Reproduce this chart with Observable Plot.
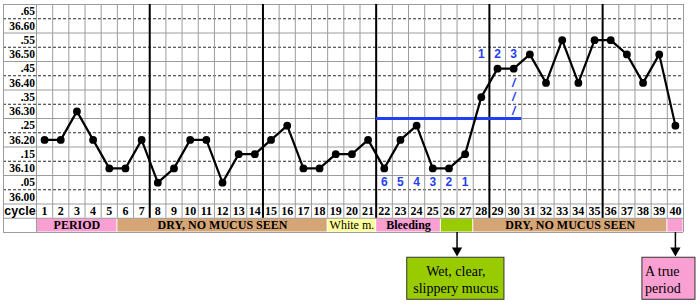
<!DOCTYPE html>
<html>
<head>
<meta charset="utf-8">
<script src="https://cdn.jsdelivr.net/npm/d3@7"></script>
<script src="https://cdn.jsdelivr.net/npm/@observablehq/plot@0.6"></script>
<style>
  html, body { margin: 0; padding: 0; background: #fff; }
  #chart svg { display: block; }
</style>
</head>
<body>
<div id="chart"></div>
<script>
// ---- data ----
const days = d3.range(1, 41);
const temps = [36.20,36.20,36.30,36.20,36.10,36.10,36.20,36.05,36.10,36.20,
               36.20,36.05,36.15,36.15,36.20,36.25,36.10,36.10,36.15,36.15,
               36.20,36.10,36.20,36.25,36.10,36.10,36.15,36.35,36.45,36.45,
               36.50,36.40,36.55,36.40,36.55,36.55,36.50,36.40,36.50,36.25];
const yTickValues = [36.00,36.05,36.10,36.15,36.20,36.25,36.30,36.35,36.40,36.45,36.50,36.55,36.60,36.65];
const yTickLabels = ["36.00",".05","36.10",".15","36.20",".25","36.30",".35","36.40",".45","36.50",".55","36.60",".65"];
const weekEnds = [7, 14, 21, 28, 35];
const bandLabels = ["PERIOD","DRY, NO MUCUS SEEN","White m.","Bleeding","","DRY, NO MUCUS SEEN",""];
const bandStart  = [1, 6, 19, 22, 26, 28, 40];
const bandEnd    = [5, 18, 21, 25, 27, 39, 40];
const bandKind   = ["period","dry","white","bleed","wet","dry","period"];
const coverTemp = 36.275, coverStart = 22, coverEnd = 30;
const preDays = [22,23,24,25,26,27], preLabels = ["6","5","4","3","2","1"], preTemp = 36.05;
const postDays = [28,29,30], postLabels = ["1","2","3"], postTemp = 36.50;
const slashDay = 30, slashTemps = [36.40, 36.35, 36.30];
const noteTexts = ["Wet, clear,\nslippery mucus", "A true\nperiod"];
const noteDays = [26.5, 40];
const noteKind = ["wet", "period"];

// ---- layout / style ----
const STEP = 0.05;
const TOP = 36.675, CYCLE_Y = 35.95, ROW_BOTTOM = 35.925, LABEL_Y = 35.90, LABEL_BOTTOM = 35.875;
const LEFT = -1.54;               // left edge of label column, in day units
const kindFill = {period:"#fa9fd2", dry:"#d5a576", white:"#ffff9e", bleed:"#fa9fd2", wet:"#99cc00"};
const boldKinds = new Set(["period","dry","bleed"]);
const noteBox = [[-3.08, 2.93], [-2.04, 1.24]];
const noteAlign = ["middle", "start"];
const BOX_TOP = 35.7864, BOX_BOTTOM = 35.6389, ARROW_END = 35.818, HEAD_Y = 35.8117;
const GREY = "#9c9c9c";
const BLUE = "#1f3ff0";
const SERIF = "Liberation Serif, Times New Roman, serif";
const SANS = "Liberation Sans, Arial, sans-serif";

const solidLines = [], dashLines = [];
for (let k = 0; k <= 14; k++) {
  const v = +(TOP - k * STEP).toFixed(3);
  (k % 2 ? dashLines : solidLines).push(v);
}
solidLines.push(ROW_BOTTOM, LABEL_BOTTOM);

const bands = bandLabels.map((label, i) => ({label, start: bandStart[i], end: bandEnd[i], kind: bandKind[i]}));
const notes = noteTexts.map((text, i) => ({text, day: noteDays[i], kind: noteKind[i], box: noteBox[i], align: noteAlign[i]}));
const points = days.map((d, i) => ({day: d, t: temps[i]}));

const chart = Plot.plot({
  width: 700, height: 305,
  marginLeft: 36, marginRight: 17, marginTop: 4, marginBottom: 73,
  x: {domain: [0.5, 40.5], axis: null},
  y: {domain: [LABEL_BOTTOM, TOP], axis: null},
  style: {background: "white", overflow: "visible"},
  marks: [
    // label row bands
    Plot.rect(bands, {x1: d => d.start - 0.5, x2: d => d.end + 0.5, y1: LABEL_BOTTOM, y2: ROW_BOTTOM,
      fill: d => kindFill[d.kind], inset: 0.5}),
    // horizontal grid
    Plot.ruleY(solidLines, {x1: LEFT, x2: 40.5, stroke: GREY, strokeWidth: 1}),
    Plot.ruleY(dashLines, {x1: LEFT, x2: 40.5, stroke: "#2a2a2a", strokeWidth: 1, strokeDasharray: "3,2"}),
    // vertical grid
    Plot.ruleX(d3.range(0.5, 41, 1), {y1: ROW_BOTTOM, y2: TOP, stroke: GREY, strokeWidth: 1}),
    Plot.ruleX([LEFT, 0.5, 40.5], {y1: LABEL_BOTTOM, y2: TOP, stroke: GREY, strokeWidth: 1}),
    // week dividers
    Plot.ruleX(weekEnds, {x: d => d + 0.5, y1: ROW_BOTTOM, y2: TOP, stroke: "#000", strokeWidth: 2}),
    // y labels
    Plot.axisY(yTickValues, {tickFormat: (d, i) => yTickLabels[i], tickSize: 0, tickPadding: 1.5,
      fontSize: 11.5, fontWeight: "bold", fontFamily: SERIF, fill: "#000", label: null}),
    // cycle row
    Plot.text(["cycle"], {x: LEFT + 1.02, y: CYCLE_Y, text: d => d, fontFamily: SANS, fontWeight: "bold", fontSize: 12.5, fill: "#000"}),
    Plot.text(days, {x: d => d, y: CYCLE_Y, text: d => String(d), fontFamily: SERIF, fontWeight: "bold", fontSize: 12, fill: "#000"}),
    // band labels
    Plot.text(bands.filter(d => boldKinds.has(d.kind)), {x: d => (d.start + d.end) / 2, y: LABEL_Y, text: "label",
      fontFamily: SERIF, fontWeight: "bold", fontSize: 12, fill: "#000"}),
    Plot.text(bands.filter(d => !boldKinds.has(d.kind)), {x: d => (d.start + d.end) / 2, y: LABEL_Y, text: "label",
      fontFamily: SERIF, fontWeight: "normal", fontSize: 12, fill: "#000"}),
    // coverline
    Plot.ruleY([coverTemp], {x1: coverStart - 0.5, x2: coverEnd + 0.5, stroke: BLUE, strokeWidth: 3}),
    // temperature line
    Plot.line(points, {x: "day", y: "t", stroke: "#000", strokeWidth: 2.2}),
    Plot.dot(points, {x: "day", y: "t", r: 3.9, fill: "#000", stroke: "none"}),
    // count labels
    Plot.text(preDays, {x: d => d, y: preTemp, text: (d, i) => preLabels[i], fill: BLUE, fontFamily: SANS, fontWeight: "bold", fontSize: 12}),
    Plot.text(postDays, {x: d => d, y: postTemp, text: (d, i) => postLabels[i], fill: BLUE, fontFamily: SANS, fontWeight: "bold", fontSize: 12}),
    Plot.text(slashTemps, {x: slashDay, y: d => d, text: () => "/", fill: BLUE, fontFamily: SANS, fontWeight: "bold", fontStyle: "italic", fontSize: 12}),
    // notes: arrows and boxes
    Plot.ruleX(notes, {x: "day", y1: LABEL_BOTTOM, y2: ARROW_END, stroke: "#000", strokeWidth: 1.5}),
    Plot.dot(notes, {x: "day", y: HEAD_Y, symbol: "triangle", rotate: 180, r: 3.8, fill: "#000", stroke: "none"}),
    Plot.rect(notes, {x1: d => d.day + d.box[0], x2: d => d.day + d.box[1], y1: BOX_BOTTOM, y2: BOX_TOP,
      fill: d => kindFill[d.kind], stroke: "#333", strokeWidth: 1}),
    Plot.text(notes.filter(d => d.align === "middle"), {x: d => d.day + (d.box[0] + d.box[1]) / 2, y: (BOX_TOP + BOX_BOTTOM) / 2,
      text: "text", fontFamily: SERIF, fontSize: 14, lineHeight: 1.2, fill: "#000"}),
    Plot.text(notes.filter(d => d.align === "start"), {x: d => d.day + d.box[0], dx: 2.5, y: (BOX_TOP + BOX_BOTTOM) / 2,
      text: "text", textAnchor: "start", fontFamily: SERIF, fontSize: 14, lineHeight: 1.2, fill: "#000"})
  ]
});
document.getElementById("chart").appendChild(chart);
</script>
</body>
</html>
